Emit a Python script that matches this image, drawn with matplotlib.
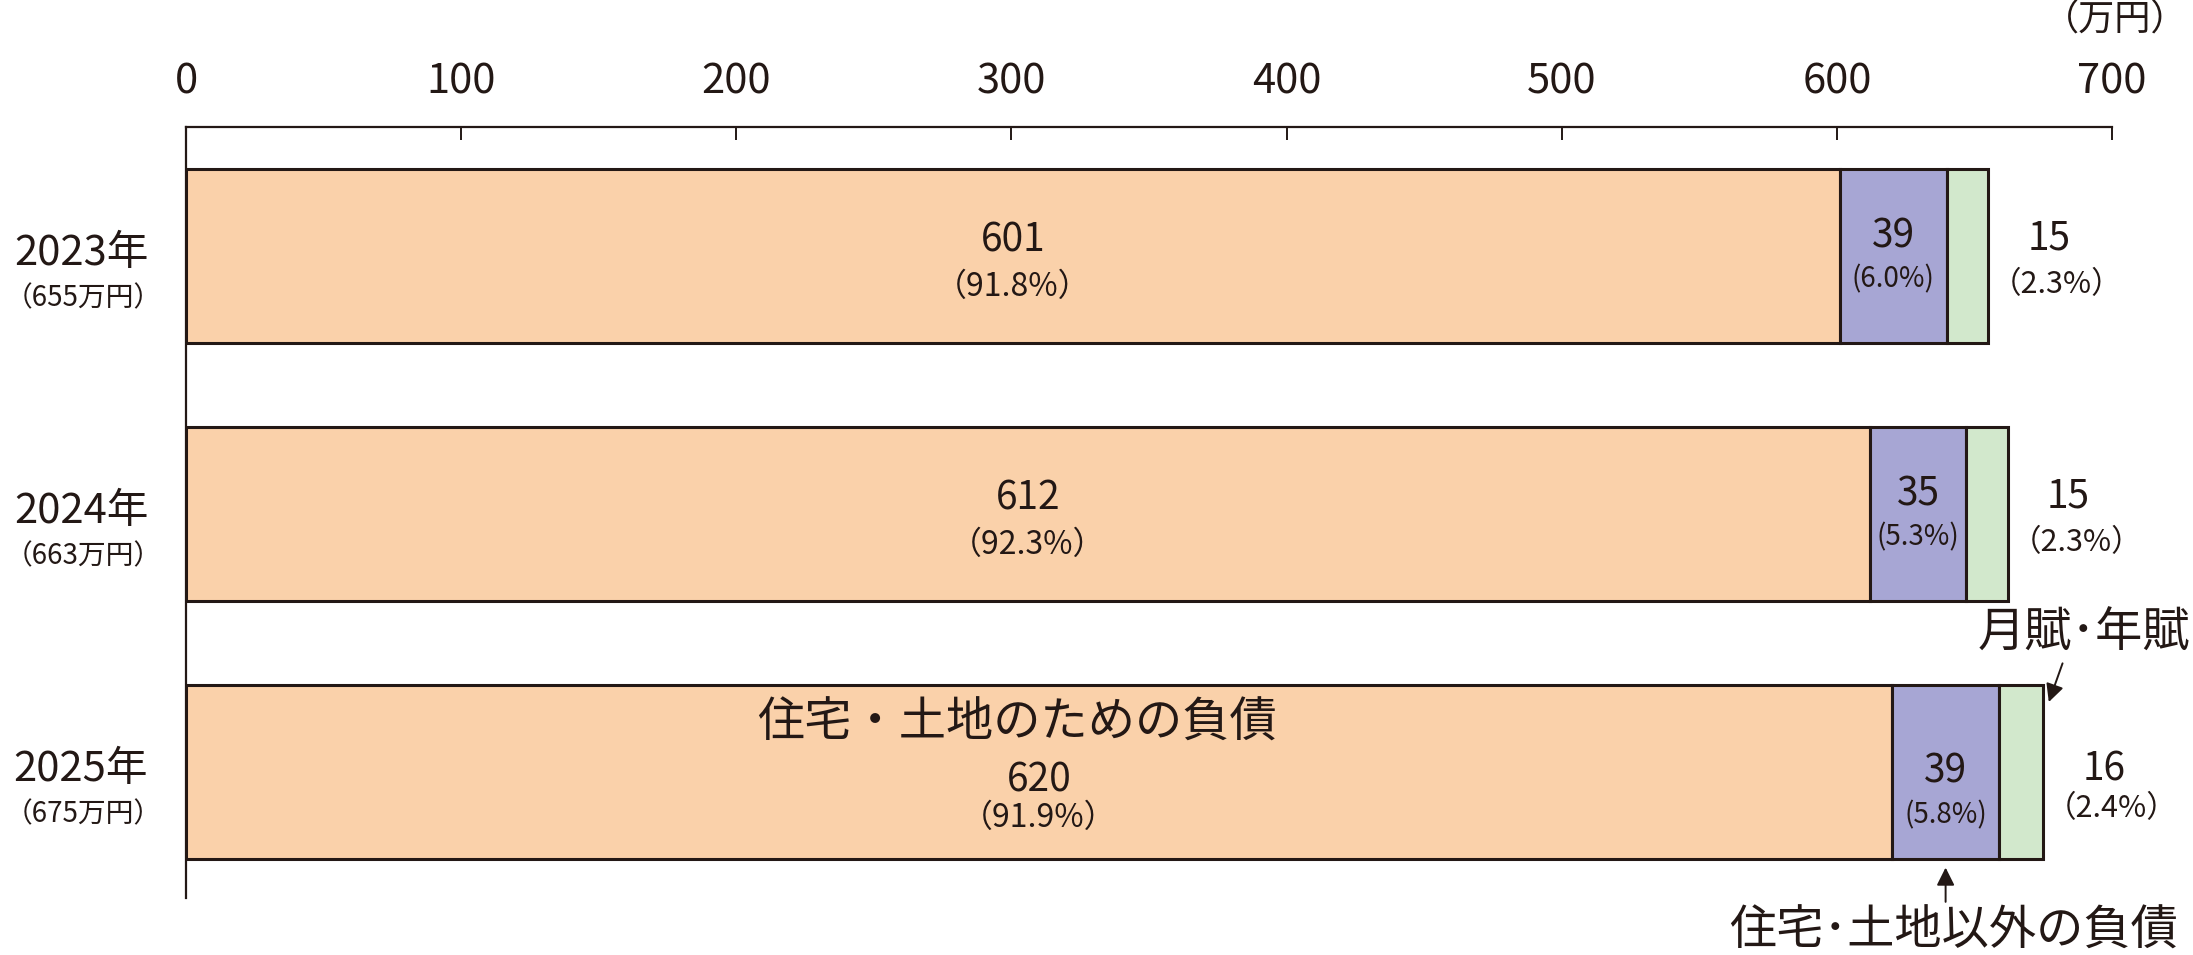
import matplotlib
matplotlib.use('Agg')
import matplotlib.pyplot as plt
import matplotlib.transforms as mtransforms
import numpy as np

plt.rcParams['font.family'] = ['Noto Sans CJK JP', 'DejaVu Sans']

# data (万円)
years = ['2023年', '2024年', '2025年']
totals = [655, 663, 675]
housing = [601, 612, 620]
housing_pct = [91.8, 92.3, 91.9]
other = [39, 35, 39]
other_pct = [6.0, 5.3, 5.8]
annuity = [15, 15, 16]
annuity_pct = [2.3, 2.3, 2.4]
xticks = [0, 100, 200, 300, 400, 500, 600, 700]

ink = '#231815'
colors = {'housing': '#FAD1AA', 'other': '#A7A6D4', 'annuity': '#D2E8CC'}

fig = plt.figure(figsize=(21.93, 9.55), dpi=100)
ax = fig.add_axes([0.0848, 0.0597, 0.8783, 0.8073])

y = np.arange(len(years))
h = 0.674
housing = np.array(housing)
other = np.array(other)
annuity = np.array(annuity)

kw = dict(height=h, edgecolor=ink, linewidth=2.2)
ax.barh(y, housing, color=colors['housing'], **kw)
ax.barh(y, other, left=housing, color=colors['other'], **kw)
ax.barh(y, annuity, left=housing + other, color=colors['annuity'], **kw)

ax.set_xlim(0, 700)
ax.set_ylim(2.49, -0.5)

# axis: only top and left lines, ticks inward from top
for side in ['right', 'bottom']:
    ax.spines[side].set_visible(False)
for side in ['top', 'left']:
    ax.spines[side].set_color(ink)
    ax.spines[side].set_linewidth(1.6)
ax.xaxis.tick_top()
ax.set_xticks(xticks)
ax.set_xticklabels([str(t) for t in xticks])
ax.tick_params(axis='x', direction='in', length=9, width=1.4, color=ink,
               labelsize=30, labelcolor=ink, pad=18)
ax.set_yticks([])

fig.text(0.9645, 0.979, '（万円）', ha='center', va='center', fontsize=26, color=ink)

# year labels on the left
trans = mtransforms.blended_transform_factory(ax.transAxes, ax.transData)
for i, yr in enumerate(years):
    ax.text(-0.0545, i - 0.01, yr, transform=trans, ha='center', va='center',
            fontsize=30, color=ink)
    ax.text(-0.0535, i + 0.165, f'（{totals[i]}万円）', transform=trans,
            ha='center', va='center', fontsize=20, color=ink)

# value labels
for i in range(len(years)):
    last = i == len(years) - 1
    xc = housing[i] / 2
    if last:
        ax.text(xc - 8, i - 0.186, '住宅・土地のための負債', ha='center', va='center',
                fontsize=34, color=ink)
        dv, dp = 0.035, 0.18
    else:
        dv, dp = -0.06, 0.12
    ax.text(xc, i + dv, f'{housing[i]}', ha='center', va='center', fontsize=28, color=ink)
    ax.text(xc, i + dp, f'（{housing_pct[i]:.1f}%）', ha='center', va='center',
            fontsize=23, color=ink)

    xo = housing[i] + other[i] / 2
    dv, dp = (0.0, 0.17) if last else (-0.075, 0.09)
    ax.text(xo, i + dv, f'{other[i]}', ha='center', va='center', fontsize=28, color=ink)
    ax.text(xo, i + dp, f'({other_pct[i]:.1f}%)', ha='center', va='center',
            fontsize=20, color=ink)

    xa = housing[i] + other[i] + annuity[i] + 22
    dv, dp = (-0.008, 0.143) if last else (-0.068, 0.11)
    ax.text(xa, i + dv, f'{annuity[i]}', ha='center', va='center', fontsize=28, color=ink)
    ax.text(xa + 3, i + dp, f'（{annuity_pct[i]:.1f}%）', ha='center', va='center',
            fontsize=22, color=ink)

# callouts for the small segments
arrow = dict(arrowstyle='-|>', color=ink, lw=1.4, mutation_scale=27, shrinkA=0, shrinkB=0)
n = len(years) - 1
end = housing[n] + other[n] + annuity[n]
ax.annotate('', xy=(end + 2, n - 0.27), xytext=(end + 7, n - 0.42),
            arrowprops=arrow, annotation_clip=False)
ax.text(728.5, n - 0.535, '月賦･年賦', ha='right', va='center', fontsize=34,
        color=ink, clip_on=False)

xo = housing[n] + other[n] / 2
ax.annotate('', xy=(xo, n + 0.372), xytext=(xo, n + 0.505),
            arrowprops=arrow, annotation_clip=False)
ax.text(xo + 3, n + 0.62, '住宅･土地以外の負債', ha='center', va='center', fontsize=34,
        color=ink, clip_on=False)

fig.savefig('out.png', dpi=100, facecolor='white')
